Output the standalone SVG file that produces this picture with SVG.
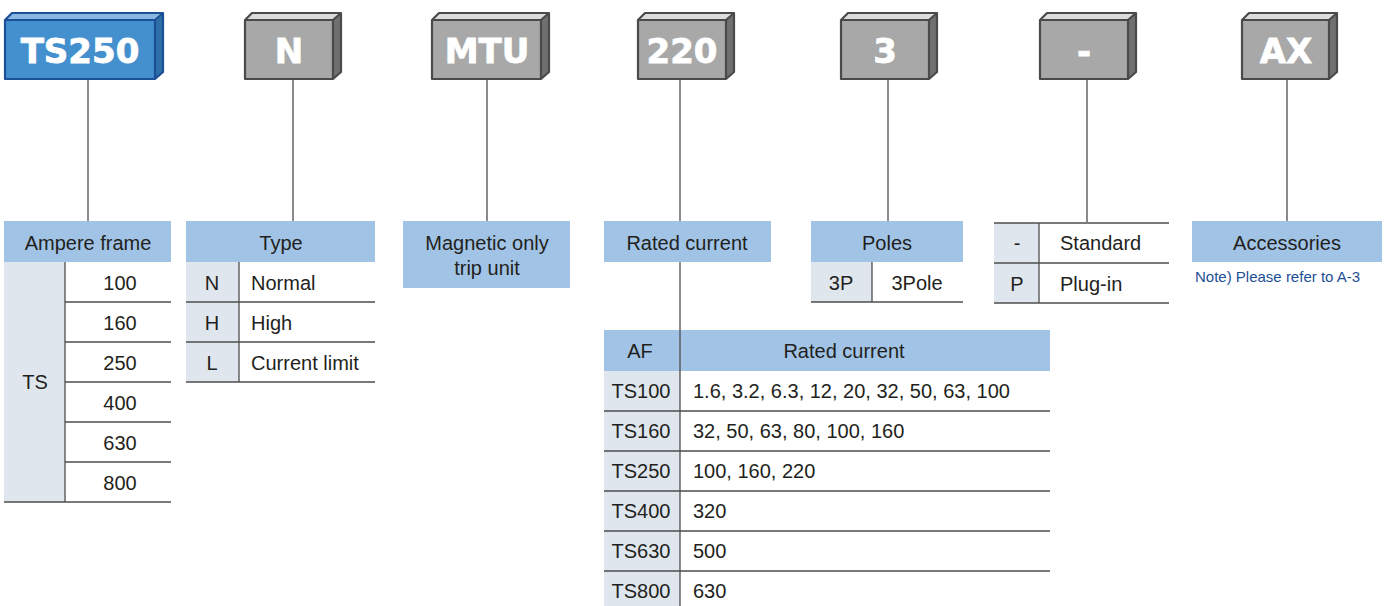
<svg xmlns="http://www.w3.org/2000/svg" width="1389" height="606" viewBox="0 0 1389 606">
<style>
  .bg{fill:#ffffff}
  .gfront{fill:#a8a8a8}
  .gtop{fill:#dcdcdc}
  .gside{fill:#707070}
  .gout{fill:none;stroke:#4a4a4a;stroke-width:2.2;stroke-linejoin:round}
  .bfront{fill:#448fcd}
  .btop{fill:#8ab6e2}
  .bside{fill:#2f6fa8}
  .bout{fill:none;stroke:#1b4f96;stroke-width:2.2;stroke-linejoin:round}
  .code{font-family:"DejaVu Sans",sans-serif;font-weight:bold;font-size:34px;fill:#ffffff;stroke:#ffffff;stroke-width:0.8;text-anchor:middle}
  .hdr{fill:#a1c4e6}
  .lc{fill:#e0e6ee}
  .ln{stroke:#4d4d4d;stroke-width:1.3;fill:none}
  .conn{stroke:#4d4d4d;stroke-width:1.3;fill:none}
  .t{font-family:"Liberation Sans",Arial,sans-serif;font-size:20px;fill:#231f20}
  .c{text-anchor:middle}
  .note{font-family:"Liberation Sans",Arial,sans-serif;font-size:15px;fill:#1d4f97}
</style>
<rect class="bg" x="0" y="0" width="1389" height="606"/>

<g id="connectors">
  <line class="conn" x1="88" y1="79" x2="88" y2="221"/>
  <line class="conn" x1="293" y1="79" x2="293" y2="221"/>
  <line class="conn" x1="487" y1="79" x2="487" y2="221"/>
  <line class="conn" x1="680" y1="79" x2="680" y2="330"/>
  <line class="conn" x1="888" y1="79" x2="888" y2="221"/>
  <line class="conn" x1="1087" y1="79" x2="1087" y2="222"/>
  <line class="conn" x1="1287" y1="79" x2="1287" y2="221"/>
</g>

<g id="box-ts250">
  <rect class="bfront" x="5" y="20" width="150" height="59"/>
  <polygon class="btop" points="5,20 12,13 163,13 155,20"/>
  <polygon class="bside" points="155,20 163,13 163,72 155,79"/>
  <path class="bout" d="M5,20 L12,13 L163,13 L163,72 L155,79 L5,79 Z M155,20 L163,13 M5,20 L155,20 L155,79"/>
  <text class="code" x="80" y="63">TS250</text>
</g>
<g id="box-n">
  <rect class="gfront" x="245" y="20" width="88" height="59"/>
  <polygon class="gtop" points="245,20 252,13 341,13 333,20"/>
  <polygon class="gside" points="333,20 341,13 341,72 333,79"/>
  <path class="gout" d="M245,20 L252,13 L341,13 L341,72 L333,79 L245,79 Z M333,20 L341,13 M245,20 L333,20 L333,79"/>
  <text class="code" x="289" y="63">N</text>
</g>
<g id="box-mtu">
  <rect class="gfront" x="432" y="20" width="109" height="59"/>
  <polygon class="gtop" points="432,20 439,13 549,13 541,20"/>
  <polygon class="gside" points="541,20 549,13 549,72 541,79"/>
  <path class="gout" d="M432,20 L439,13 L549,13 L549,72 L541,79 L432,79 Z M541,20 L549,13 M432,20 L541,20 L541,79"/>
  <text class="code" x="487" y="63">MTU</text>
</g>
<g id="box-220">
  <rect class="gfront" x="638" y="20" width="88" height="59"/>
  <polygon class="gtop" points="638,20 645,13 734,13 726,20"/>
  <polygon class="gside" points="726,20 734,13 734,72 726,79"/>
  <path class="gout" d="M638,20 L645,13 L734,13 L734,72 L726,79 L638,79 Z M726,20 L734,13 M638,20 L726,20 L726,79"/>
  <text class="code" x="682" y="63">220</text>
</g>
<g id="box-3">
  <rect class="gfront" x="841" y="20" width="88" height="59"/>
  <polygon class="gtop" points="841,20 848,13 937,13 929,20"/>
  <polygon class="gside" points="929,20 937,13 937,72 929,79"/>
  <path class="gout" d="M841,20 L848,13 L937,13 L937,72 L929,79 L841,79 Z M929,20 L937,13 M841,20 L929,20 L929,79"/>
  <text class="code" x="885" y="63">3</text>
</g>
<g id="box-dash">
  <rect class="gfront" x="1040" y="20" width="88" height="59"/>
  <polygon class="gtop" points="1040,20 1047,13 1136,13 1128,20"/>
  <polygon class="gside" points="1128,20 1136,13 1136,72 1128,79"/>
  <path class="gout" d="M1040,20 L1047,13 L1136,13 L1136,72 L1128,79 L1040,79 Z M1128,20 L1136,13 M1040,20 L1128,20 L1128,79"/>
  <text class="code" x="1084" y="63">-</text>
</g>
<g id="box-ax">
  <rect class="gfront" x="1242" y="20" width="87" height="59"/>
  <polygon class="gtop" points="1242,20 1249,13 1337,13 1329,20"/>
  <polygon class="gside" points="1329,20 1337,13 1337,72 1329,79"/>
  <path class="gout" d="M1242,20 L1249,13 L1337,13 L1337,72 L1329,79 L1242,79 Z M1329,20 L1337,13 M1242,20 L1329,20 L1329,79"/>
  <text class="code" x="1286" y="63">AX</text>
</g>

<g id="table-ampere">
  <rect class="hdr" x="4" y="221" width="167" height="41"/>
  <text class="t c" x="88" y="250">Ampere frame</text>
  <rect class="lc" x="4" y="262" width="61" height="240"/>
  <line class="ln" x1="65" y1="262" x2="65" y2="502"/>
  <line class="ln" x1="65" y1="302" x2="171" y2="302"/>
  <line class="ln" x1="65" y1="342" x2="171" y2="342"/>
  <line class="ln" x1="65" y1="382" x2="171" y2="382"/>
  <line class="ln" x1="65" y1="422" x2="171" y2="422"/>
  <line class="ln" x1="65" y1="462" x2="171" y2="462"/>
  <line class="ln" x1="4" y1="502" x2="171" y2="502"/>
  <text class="t c" x="35" y="389">TS</text>
  <text class="t c" x="120" y="290">100</text>
  <text class="t c" x="120" y="330">160</text>
  <text class="t c" x="120" y="370">250</text>
  <text class="t c" x="120" y="410">400</text>
  <text class="t c" x="120" y="450">630</text>
  <text class="t c" x="120" y="490">800</text>
</g>

<g id="table-type">
  <rect class="hdr" x="186" y="221" width="189" height="41"/>
  <text class="t c" x="281" y="250">Type</text>
  <rect class="lc" x="186" y="262" width="53" height="120"/>
  <line class="ln" x1="239" y1="262" x2="239" y2="382"/>
  <line class="ln" x1="186" y1="302" x2="375" y2="302"/>
  <line class="ln" x1="186" y1="342" x2="375" y2="342"/>
  <line class="ln" x1="186" y1="382" x2="375" y2="382"/>
  <text class="t c" x="212" y="290">N</text>
  <text class="t c" x="212" y="330">H</text>
  <text class="t c" x="212" y="370">L</text>
  <text class="t" x="251" y="290">Normal</text>
  <text class="t" x="251" y="330">High</text>
  <text class="t" x="251" y="370">Current limit</text>
</g>

<g id="table-mtu">
  <rect class="hdr" x="403" y="221" width="167" height="67"/>
  <text class="t c" x="487" y="250">Magnetic only</text>
  <text class="t c" x="487" y="275">trip unit</text>
</g>

<g id="table-rated">
  <rect class="hdr" x="604" y="221" width="167" height="41"/>
  <text class="t c" x="687" y="250">Rated current</text>
</g>

<g id="table-af">
  <rect class="hdr" x="604" y="330" width="446" height="41"/>
  <rect class="lc" x="604" y="371" width="76" height="235"/>
  <line class="ln" x1="680" y1="330" x2="680" y2="606"/>
  <line class="ln" x1="604" y1="411" x2="1050" y2="411"/>
  <line class="ln" x1="604" y1="451" x2="1050" y2="451"/>
  <line class="ln" x1="604" y1="491" x2="1050" y2="491"/>
  <line class="ln" x1="604" y1="531" x2="1050" y2="531"/>
  <line class="ln" x1="604" y1="571" x2="1050" y2="571"/>
  <text class="t c" x="640" y="358">AF</text>
  <text class="t c" x="844" y="358">Rated current</text>
  <text class="t c" x="641" y="398">TS100</text>
  <text class="t c" x="641" y="438">TS160</text>
  <text class="t c" x="641" y="478">TS250</text>
  <text class="t c" x="641" y="518">TS400</text>
  <text class="t c" x="641" y="558">TS630</text>
  <text class="t c" x="641" y="598">TS800</text>
  <text class="t" x="693" y="398">1.6, 3.2, 6.3, 12, 20, 32, 50, 63, 100</text>
  <text class="t" x="693" y="438">32, 50, 63, 80, 100, 160</text>
  <text class="t" x="693" y="478">100, 160, 220</text>
  <text class="t" x="693" y="518">320</text>
  <text class="t" x="693" y="558">500</text>
  <text class="t" x="693" y="598">630</text>
</g>

<g id="table-poles">
  <rect class="hdr" x="811" y="221" width="152" height="41"/>
  <text class="t c" x="887" y="250">Poles</text>
  <rect class="lc" x="811" y="262" width="61" height="40"/>
  <line class="ln" x1="872" y1="262" x2="872" y2="302"/>
  <line class="ln" x1="811" y1="302" x2="963" y2="302"/>
  <text class="t c" x="841" y="290">3P</text>
  <text class="t c" x="917" y="290">3Pole</text>
</g>

<g id="table-mount">
  <rect class="lc" x="994" y="223" width="45" height="80"/>
  <line class="ln" x1="994" y1="223" x2="1169" y2="223"/>
  <line class="ln" x1="994" y1="263" x2="1169" y2="263"/>
  <line class="ln" x1="994" y1="303" x2="1169" y2="303"/>
  <line class="ln" x1="1039" y1="223" x2="1039" y2="303"/>
  <text class="t c" x="1017" y="250">-</text>
  <text class="t c" x="1017" y="291">P</text>
  <text class="t" x="1060" y="250">Standard</text>
  <text class="t" x="1060" y="291">Plug-in</text>
</g>

<g id="table-acc">
  <rect class="hdr" x="1192" y="221" width="190" height="41"/>
  <text class="t c" x="1287" y="250">Accessories</text>
  <text class="note" x="1195" y="282">Note) Please refer to A-3</text>
</g>
</svg>
